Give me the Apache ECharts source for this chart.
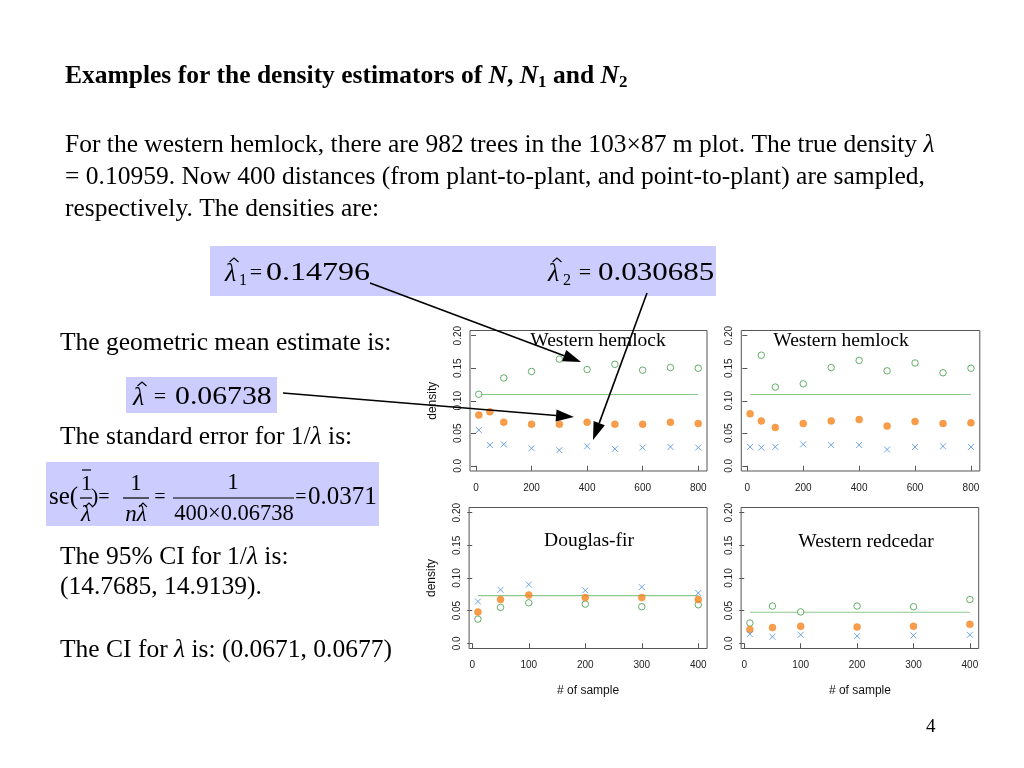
<!DOCTYPE html>
<html><head><meta charset="utf-8">
<script src="https://cdn.jsdelivr.net/npm/echarts@6/dist/echarts.min.js"></script>
<style>html,body{margin:0;padding:0;background:#fff}#c{width:1024px;height:768px}</style>
</head><body><div id="c"></div>
<script>
// ---------- data ----------
const sampleLarge = [10, 50, 100, 200, 300, 400, 500, 600, 700, 800];
const sampleSmall = [10, 50, 100, 200, 300, 400];
const xTicksLarge = [0, 200, 400, 600, 800];
const xTicksSmall = [0, 100, 200, 300, 400];
const yTicks = [0, 0.05, 0.10, 0.15, 0.20];
const yTickLabels = ['0.0', '0.05', '0.10', '0.15', '0.20'];
const panelTitles = ['Western hemlock', 'Western hemlock', 'Douglas-fir', 'Western redcedar'];

// panel 1: Western hemlock (plant-to-plant λ1 = circles, geometric mean = dots, point-to-plant λ2 = crosses)
const wh1Lambda1 = [0.110, null, 0.135, 0.145, 0.164, 0.148, 0.156, 0.147, 0.151, 0.150];
const wh1Geo     = [0.078, 0.083, 0.067, 0.064, 0.064, 0.067, 0.064, 0.064, 0.067, 0.065];
const wh1Lambda2 = [0.055, 0.032, 0.033, 0.027, 0.024, 0.030, 0.026, 0.028, 0.029, 0.028];
const wh1True = 0.10959;
// panel 2: Western hemlock (second replicate)
const wh2Lambda1 = [null, 0.170, 0.121, 0.126, 0.151, 0.162, 0.146, 0.158, 0.143, 0.150];
const wh2Geo     = [0.080, 0.069, 0.059, 0.065, 0.069, 0.071, 0.061, 0.068, 0.065, 0.066];
const wh2Lambda2 = [0.029, 0.028, 0.029, 0.033, 0.032, 0.032, 0.025, 0.029, 0.030, 0.029];
const wh2True = 0.10959;
// panel 3: Douglas-fir
const dfLambda1 = [0.037, 0.055, 0.062, 0.060, 0.056, 0.059];
const dfGeo     = [0.048, 0.067, 0.074, 0.070, 0.070, 0.067];
const dfLambda2 = [0.064, 0.082, 0.090, 0.081, 0.086, 0.077];
const dfTrue = 0.0729;
// panel 4: Western redcedar
const rcLambda1 = [0.031, 0.057, 0.048, 0.057, 0.056, 0.067];
const rcGeo     = [0.021, 0.024, 0.026, 0.025, 0.026, 0.029];
const rcLambda2 = [0.014, 0.010, 0.013, 0.011, 0.012, 0.013];
const rcTrue = 0.0475;

// ---------- style ----------
const GREEN = '#3f9a45', GREEN_LINE = '#8cc88c', ORANGE = '#f5841f', BLUE = '#4a8de0';
const SERIF = 'Liberation Serif', SANS = 'Liberation Sans';
const BODY = 25.5;

const panels = [
  {left: 470, top: 330.5, width: 237, height: 140.5, xs: sampleLarge, ticks: xTicksLarge, xmin: -21.6, xmax: 831.6,
   l1: wh1Lambda1, geo: wh1Geo, l2: wh1Lambda2, tr: wh1True, yname: 'density', xname: ''},
  {left: 741.3, top: 330.5, width: 238.5, height: 140.5, xs: sampleLarge, ticks: xTicksLarge, xmin: -21.6, xmax: 831.6,
   l1: wh2Lambda1, geo: wh2Geo, l2: wh2Lambda2, tr: wh2True, yname: '', xname: ''},
  {left: 469.1, top: 507.5, width: 238, height: 141, xs: sampleSmall, ticks: xTicksSmall, xmin: -5.6, xmax: 415.6,
   l1: dfLambda1, geo: dfGeo, l2: dfLambda2, tr: dfTrue, yname: 'density', xname: '# of sample'},
  {left: 741.1, top: 507.5, width: 237.6, height: 141, xs: sampleSmall, ticks: xTicksSmall, xmin: -5.6, xmax: 415.6,
   l1: rcLambda1, geo: rcGeo, l2: rcLambda2, tr: rcTrue, yname: '', xname: '# of sample'}
];

const pairs = (xs, ys) => xs.map((x, i) => [x, ys[i]]).filter(p => p[1] !== null);

const grid = [], xAxis = [], yAxis = [], series = [];
panels.forEach((p, i) => {
  grid.push({left: p.left, top: p.top, width: p.width, height: p.height, show: true,
    borderColor: '#555', borderWidth: 1, backgroundColor: 'transparent', containLabel: false});
  xAxis.push({type: 'value', gridIndex: i, min: p.xmin, max: p.xmax,
    name: p.xname, nameLocation: 'middle', nameGap: 36,
    nameTextStyle: {fontFamily: SANS, fontSize: 12, color: '#111'},
    axisLine: {show: false}, splitLine: {show: false},
    axisTick: {show: true, inside: false, length: 5, customValues: p.ticks, lineStyle: {color: '#555'}},
    axisLabel: {customValues: p.ticks, fontFamily: SANS, fontSize: 10, color: '#222', margin: 12}});
  yAxis.push({type: 'value', gridIndex: i, min: -0.008, max: 0.208,
    name: p.yname, nameLocation: 'middle', nameGap: 31, nameRotate: 90,
    nameTextStyle: {fontFamily: SANS, fontSize: 12, color: '#111'},
    axisLine: {show: false}, splitLine: {show: false},
    axisTick: {show: true, inside: false, length: 5, customValues: yTicks, lineStyle: {color: '#555'}},
    axisLabel: {customValues: yTicks, rotate: 90, fontFamily: SANS, fontSize: 10, color: '#222', margin: 7,
      formatter: v => yTickLabels[yTicks.findIndex(t => Math.abs(t - v) < 1e-9)]}});
  series.push({type: 'line', xAxisIndex: i, yAxisIndex: i, showSymbol: false, silent: true,
    data: [[p.xs[0], p.tr], [p.xs[p.xs.length - 1], p.tr]],
    lineStyle: {color: GREEN_LINE, width: 1.2}, z: 1});
  series.push({type: 'scatter', xAxisIndex: i, yAxisIndex: i, data: pairs(p.xs, p.l1),
    symbol: 'circle', symbolSize: 6.5, itemStyle: {color: '#fff', borderColor: GREEN, borderWidth: 1}, z: 3});
  series.push({type: 'scatter', xAxisIndex: i, yAxisIndex: i, data: pairs(p.xs, p.geo),
    symbol: 'circle', symbolSize: 7, itemStyle: {color: ORANGE, borderColor: ORANGE, borderWidth: 0.5}, z: 3});
  series.push({type: 'scatter', xAxisIndex: i, yAxisIndex: i, data: pairs(p.xs, p.l2),
    symbol: 'path://M0 0 L10 10 M10 0 L0 10', symbolSize: 6,
    itemStyle: {color: 'none', borderColor: BLUE, borderWidth: 1}, z: 3});
});

// ---------- slide text / graphics ----------
const G = [];
function txt(x, y, text, o = {}) {
  G.push({type: 'text', x: x, y: y, scaleX: o.sx || 1, z: 20,
    style: {text: text, fontFamily: o.ff || SERIF, fontSize: o.fs || BODY, fontWeight: o.fw || 'normal',
      fontStyle: o.it ? 'italic' : 'normal', fill: '#000', align: o.align || 'left', verticalAlign: 'middle',
      rich: o.rich}});
}
function rect(x, y, w, h) { G.push({type: 'rect', shape: {x, y, width: w, height: h}, style: {fill: '#ccccff'}, z: 5}); }
function hline(x1, x2, y) { G.push({type: 'line', shape: {x1, y1: y, x2, y2: y}, style: {stroke: '#000', lineWidth: 1.2}, z: 21}); }
function hat(cx, y, w) {
  G.push({type: 'polyline', shape: {points: [[cx - w / 2, y + 3], [cx, y - 1], [cx + w / 2, y + 3]]},
    style: {stroke: '#000', lineWidth: 1.1, fill: null}, z: 21});
}
function arrow(x1, y1, x2, y2) {
  const a = Math.atan2(y2 - y1, x2 - x1), L = 18, W = 6;
  const bx = x2 - L * Math.cos(a), by = y2 - L * Math.sin(a);
  G.push({type: 'line', shape: {x1, y1, x2: bx, y2: by}, style: {stroke: '#000', lineWidth: 1.6}, z: 30});
  G.push({type: 'polygon', shape: {points: [[x2, y2],
    [bx + W * Math.sin(a), by - W * Math.cos(a)], [bx - W * Math.sin(a), by + W * Math.cos(a)]]},
    style: {fill: '#000'}, z: 30});
}
const richN = {n: {fontFamily: SERIF, fontSize: BODY}, i: {fontFamily: SERIF, fontSize: BODY, fontStyle: 'italic'}};

// title
txt(65, 76, '{b|Examples for the density estimators of }{bi|N}{b|, }{bi|N}{bs|1}{b| and }{bi|N}{bs|2}', {
  rich: {
    b: {fontFamily: SERIF, fontSize: 25.5, fontWeight: 'bold', lineHeight: 30},
    bi: {fontFamily: SERIF, fontSize: 25.5, fontWeight: 'bold', fontStyle: 'italic', lineHeight: 30},
    bs: {fontFamily: SERIF, fontSize: 17, fontWeight: 'bold', lineHeight: 17, verticalAlign: 'bottom'}
  }});
// paragraph
txt(65, 145, '{n|For the western hemlock, there are 982 trees in the 103×87 m plot. The true density }{i|λ}', {rich: richN});
txt(65, 177, '= 0.10959. Now 400 distances (from plant-to-plant, and point-to-plant) are sampled,');
txt(65, 209, 'respectively. The densities are:');

// box with lambda1, lambda2
rect(210, 246, 506, 50);
txt(225, 274, 'λ', {fs: 26, it: true});
hat(234, 259, 9);
txt(239, 281, '1', {fs: 16});
txt(256, 273, '=', {fs: 22, align: 'center'});
txt(266, 273, '0.14796', {fs: 25, sx: 1.28});
txt(548, 274, 'λ', {fs: 26, it: true});
hat(557, 259, 9);
txt(563, 281, '2', {fs: 16});
txt(585, 273, '=', {fs: 22, align: 'center'});
txt(598, 273, '0.030685', {fs: 25, sx: 1.24});

// left column
txt(60, 343, 'The geometric mean estimate is:');
rect(126, 377, 151, 36);
txt(133, 398, 'λ', {fs: 26, it: true});
hat(142, 383, 9);
txt(160, 397, '=', {fs: 22, align: 'center'});
txt(175, 397, '0.06738', {fs: 25, sx: 1.19});
txt(60, 437, '{n|The standard error for 1/}{i|λ}{n| is:}', {rich: richN});

// se formula box
rect(46, 462, 333, 64);
txt(49, 497, 'se(', {fs: 25});
hline(82, 91, 470);
txt(86.5, 484, '1', {fs: 22, align: 'center'});
hline(80, 92, 498);
txt(86, 515, 'λ', {fs: 23, align: 'center', it: true});
hat(89, 504, 8);
txt(91, 497, ')', {fs: 22});
txt(104, 498, '=', {fs: 20, align: 'center'});
txt(136, 484, '1', {fs: 23, align: 'center'});
hline(123, 149, 498);
txt(136, 515, 'nλ', {fs: 23, align: 'center', it: true});
hat(143, 504, 8);
txt(160, 498, '=', {fs: 20, align: 'center'});
txt(233, 483, '1', {fs: 23, align: 'center'});
hline(173, 294, 498);
txt(234, 514, '400×0.06738', {fs: 22.5, align: 'center'});
txt(301, 498, '=', {fs: 20, align: 'center'});
txt(308, 497, '0.0371', {fs: 25});

txt(60, 557, '{n|The 95% CI for 1/}{i|λ}{n| is:}', {rich: richN});
txt(60, 587, '(14.7685, 14.9139).');
txt(60, 650, '{n|The CI for }{i|λ}{n| is: (0.0671, 0.0677)}', {rich: richN});
txt(926, 727, '4', {fs: 19});

// panel titles
txt(598, 341, panelTitles[0], {fs: 19.5, align: 'center'});
txt(841, 341, panelTitles[1], {fs: 19.5, align: 'center'});
txt(589, 541, panelTitles[2], {fs: 19.5, align: 'center'});
txt(866, 542, panelTitles[3], {fs: 19.5, align: 'center'});

// arrows
arrow(370, 283, 581, 362);
arrow(647, 293, 593, 440);
arrow(283, 393, 574, 417);

const chart = echarts.init(document.getElementById('c'), null, {renderer: 'canvas'});
chart.setOption({
  animation: false,
  backgroundColor: '#fff',
  grid, xAxis, yAxis, series,
  graphic: {elements: G}
});
</script></body></html>
